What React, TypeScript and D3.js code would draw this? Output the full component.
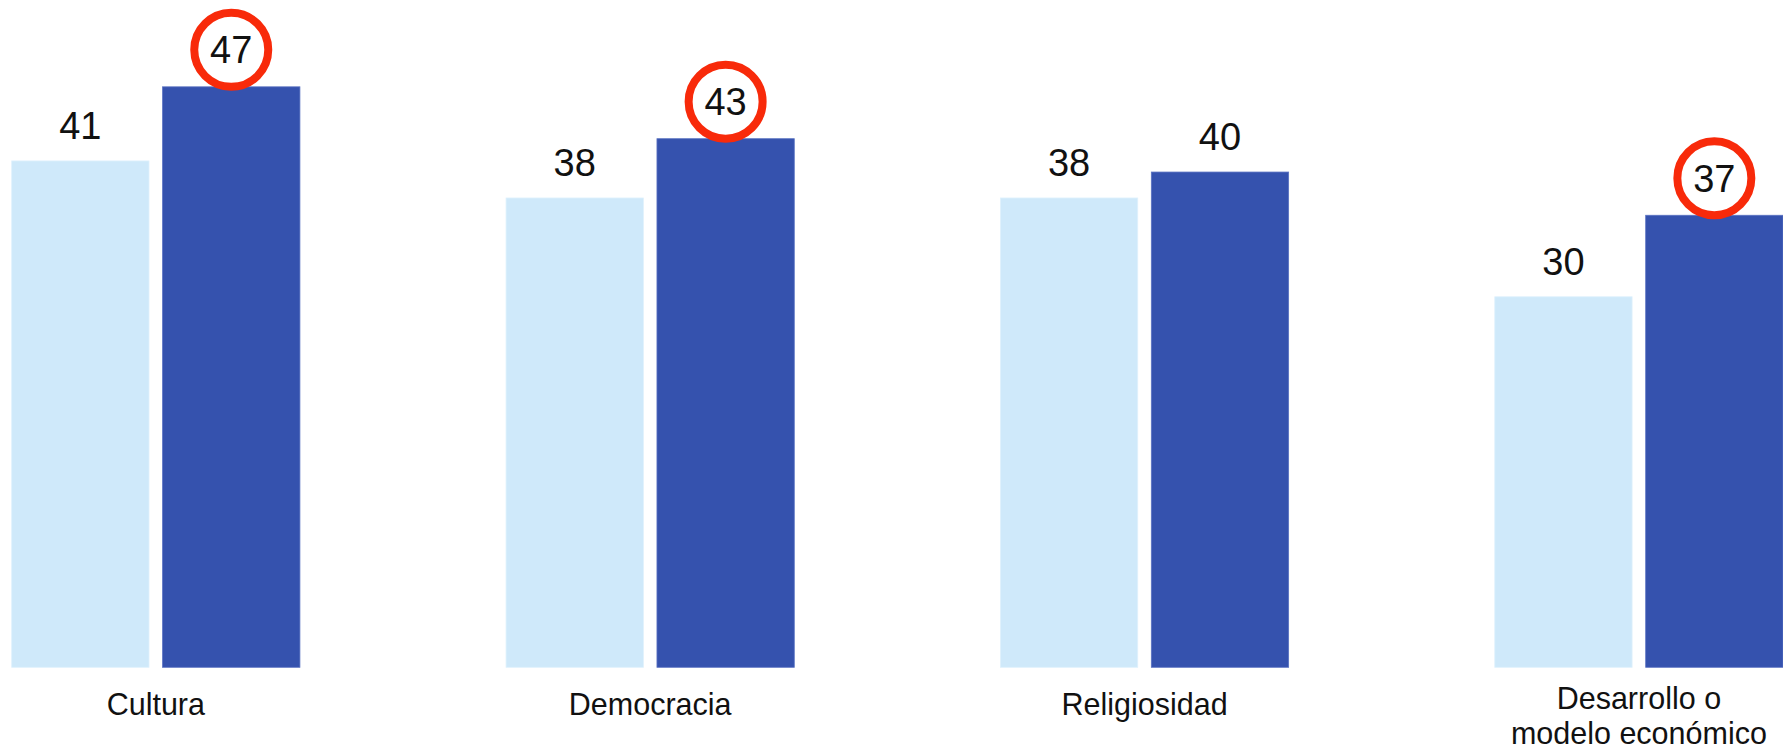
import * as d3 from 'd3';

const categories = ['Cultura', 'Democracia', 'Religiosidad', 'Desarrollo o\nmodelo económico'];
const seriesKeys = ['antes', 'despues'];
const valuesAntes = [41, 38, 38, 30];
const valuesDespues = [47, 42.8, 40.1, 36.6];
const circled = [true, true, false, true];

const W = 1783;
const H = 751;
const BASE = 667.3;
const FONT = '"Liberation Sans", Arial, Helvetica, sans-serif';
const LIGHT = '#CFE9FA';
const DARK = '#3552AE';
const RED = '#F82A0A';

export default function App() {
  const x = d3.scaleBand<string>().domain(categories).range([11.7, W]).paddingInner(0.417).paddingOuter(0);
  const xi = d3.scaleBand<string>().domain(seriesKeys).range([0, x.bandwidth()]).paddingInner(0.09);
  const y = d3.scaleLinear().domain([0, 54.03]).range([BASE, 0]);

  return (
    <svg
      width={W}
      height={H}
      style={{ position: 'absolute', left: 0, top: 0, background: '#fff' }}
      fontFamily={FONT}
    >
      {categories.map((c, i) => {
        const gx = x(c) ?? 0;
        const vals = [valuesAntes[i], valuesDespues[i]];
        const lines = c.split('\n');
        return (
          <g key={c} transform={`translate(${gx},0)`}>
            {seriesKeys.map((k, j) => {
              const v = vals[j];
              const bx = xi(k) ?? 0;
              const bw = xi.bandwidth();
              const top = y(v);
              const cx = bx + bw / 2;
              const ring = j === 1 && circled[i];
              return (
                <g key={k}>
                  <rect
                    x={bx}
                    y={top}
                    width={bw}
                    height={BASE - top}
                    fill={j === 0 ? LIGHT : DARK}
                    stroke={j === 0 ? '#dff1fc' : '#5a72c2'}
                    strokeWidth={0.8}
                  />
                  {ring ? (
                    <g>
                      <circle cx={cx} cy={top - 37} r={37} fill="#fff" stroke={RED} strokeWidth={8} />
                      <text x={cx} y={top - 37} dy="0.35em" textAnchor="middle" fontSize={38} fill="#111">
                        {Math.round(v)}
                      </text>
                    </g>
                  ) : (
                    <text x={cx} y={top - 22} textAnchor="middle" fontSize={38} fill="#111">
                      {Math.round(v)}
                    </text>
                  )}
                </g>
              );
            })}
            <text textAnchor="middle" fontSize={30.5} fill="#111">
              {lines.map((l, li) => (
                <tspan key={li} x={x.bandwidth() / 2} y={(lines.length > 1 ? 709 : 715) + li * 35}>
                  {l}
                </tspan>
              ))}
            </text>
          </g>
        );
      })}
    </svg>
  );
}
